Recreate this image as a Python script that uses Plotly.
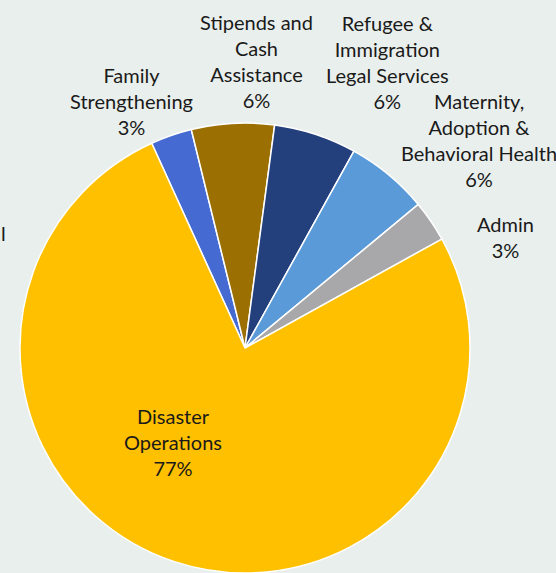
import plotly.graph_objects as go

# Data (clockwise from the top-left slice)
labels = ["Family<br>Strengthening", "Stipends and<br>Cash<br>Assistance",
          "Refugee &<br>Immigration<br>Legal Services",
          "Maternity,<br>Adoption &<br>Behavioral Health", "Admin",
          "Disaster<br>Operations"]
values = [3, 6, 6, 6, 3, 77]
colors = ["#456bd3", "#9b6f02", "#233f7c", "#5a9ad8", "#a8a8aa", "#ffc000"]

# label anchor positions in pixels (x, y from top)
label_pos = [(131, 101), (256, 61), (387, 62), (479, 140), (505, 237), (173, 442)]

W, H = 556, 573
FONT = dict(family="Lato", size=20, color="#1a1a1a")
fig = go.Figure()
fig.add_trace(go.Pie(
    labels=labels, values=values, sort=False, direction="clockwise",
    rotation=-24.5, textinfo="none", showlegend=False,
    marker=dict(colors=colors, line=dict(color="#ffffff", width=1.5)),
    domain=dict(x=[0, 490 / W], y=[0, 450 / H]),
))

anns = []
for lab, v, (px, py) in zip(labels, values, label_pos):
    anns.append(dict(text=f"{lab}<br>{v}%", x=px / W, y=1 - py / H,
                     xref="paper", yref="paper", xanchor="center", yanchor="middle",
                     showarrow=False, align="center", font=FONT))
anns.append(dict(text="l", x=3 / W, y=1 - 233 / H, xref="paper", yref="paper",
                 xanchor="center", yanchor="middle", showarrow=False, font=FONT))

fig.update_layout(width=W, height=H, margin=dict(l=0, r=0, t=0, b=0),
                  paper_bgcolor="#e9efec", plot_bgcolor="#e9efec",
                  annotations=anns)
fig.write_html("out.html", config={"displayModeBar": False},
               post_script="document.body.style.margin='0';document.body.style.overflow='hidden';")
